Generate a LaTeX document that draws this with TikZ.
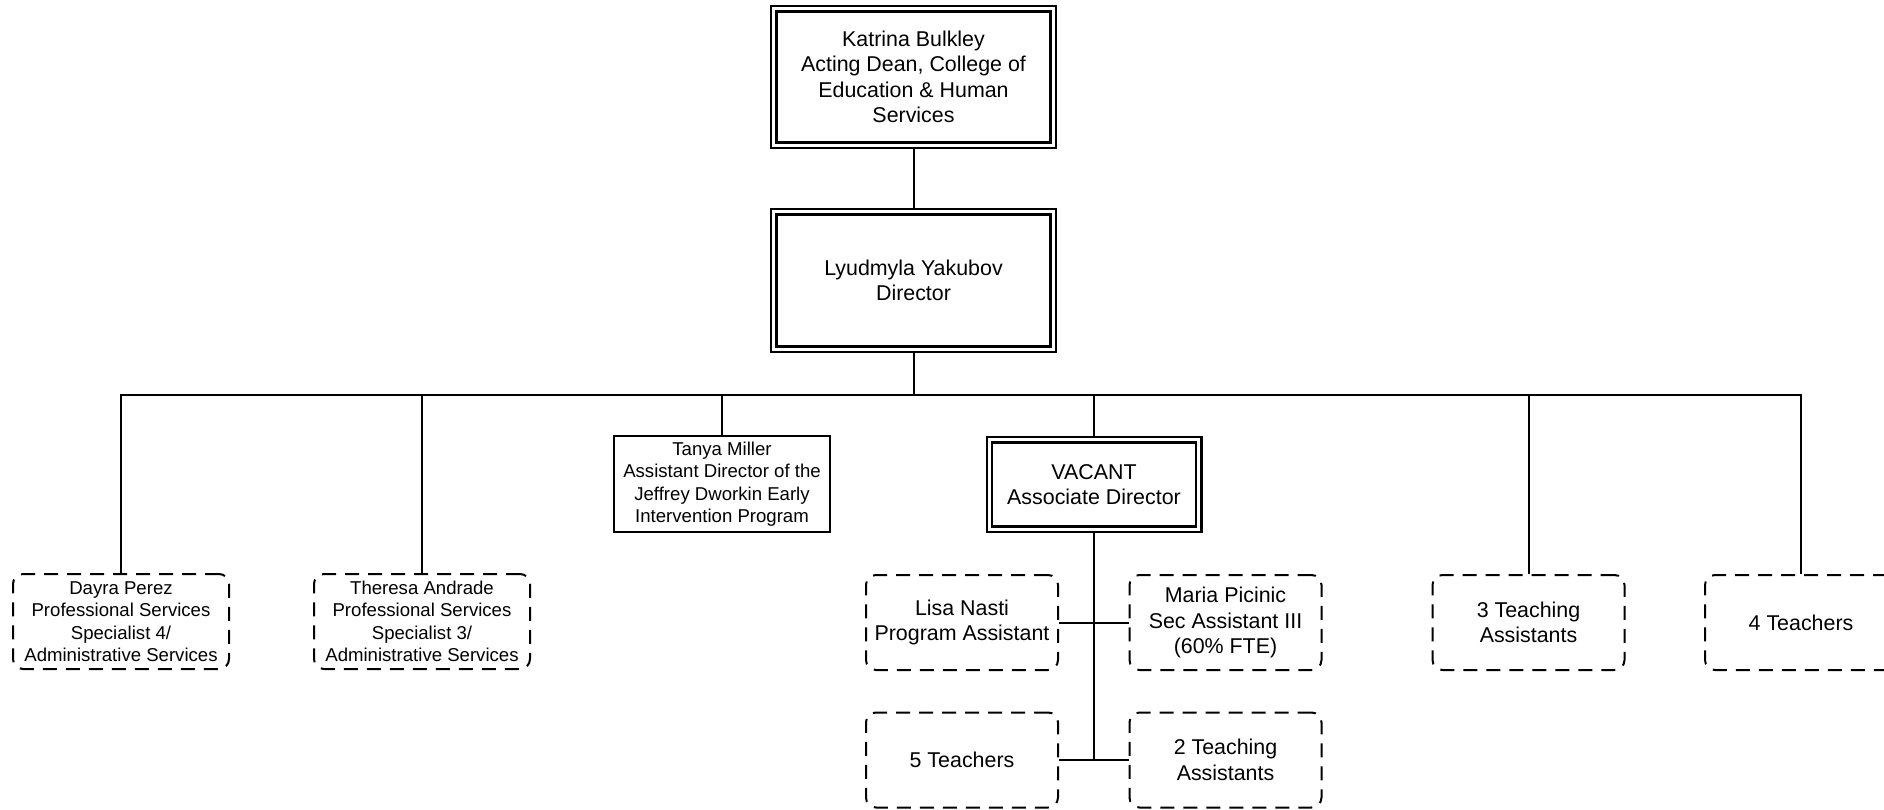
\documentclass[tikz,border=0pt]{standalone}
\usepackage{fontspec}
\setmainfont{Liberation Sans}
\begin{document}
\begin{tikzpicture}[x=0.5pt, y=-0.5pt, line width=1pt,
    every node/.style={rectangle, align=center, inner sep=2pt},
    big/.style={font=\fontsize{10.7}{12.7}\selectfont},
    small/.style={font=\fontsize{9.3}{11.2}\selectfont},
    dbl/.style={draw, double, line width=1.2pt, double distance=1.5pt, outer sep=1.95pt, big},
    dashbox/.style={draw, dash pattern=on 7pt off 4.5pt, rounded corners=5pt, minimum width=96pt, minimum height=47.5pt},
    solidbox/.style={draw, minimum width=108pt, minimum height=48pt, small}]
      \clip (0,0) rectangle (1884,809);
      \node (1) at (913.5,77) [dbl, minimum width=139.6pt, minimum height=68.1pt] {Katrina Bulkley\\Acting Dean, College of\\Education \& Human\\Services};
      \node (2) at (913.5,280.5) [dbl, minimum width=139.6pt, minimum height=68.6pt] {Lyudmyla Yakubov\\Director};
      \node (3) at (121,621.5) [dashbox, small, minimum width=108pt] {Dayra Perez\\Professional Services\\Specialist 4/\\Administrative Services};
      \node (4) at (422,621.5) [dashbox, small, minimum width=108pt] {Theresa Andrade\\Professional Services\\Specialist 3/\\Administrative Services};
      \node (5) at (722,484) [solidbox] {Tanya Miller\\Assistant Director of the\\Jeffrey Dworkin Early\\Intervention Program};
      \node (6) at (1094,484.5) [dbl, minimum width=104.6pt, minimum height=44.6pt] {VACANT\\Associate Director};
      \node (7) at (1528.5,622.5) [dashbox, big] {3 Teaching\\Assistants};
      \node (8) at (1801,622.5) [dashbox, big] {4 Teachers};
      \node (9) at (962,622.5) [dashbox, big] {Lisa Nasti\\Program Assistant};
      \node (10) at (1225.5,622.5) [dashbox, big] {Maria Picinic\\Sec Assistant III\\(60\% FTE)};
      \node (11) at (962,760) [dashbox, big] {5 Teachers};
      \node (12) at (1225.5,760) [dashbox, big] {2 Teaching\\Assistants};
      \coordinate (bus) at (913.5,395);
      \coordinate (stem) at (1094,760);
      \draw (1) -- (2);
      \draw (2.south) -- (bus);
      \foreach \dest in {3,4,5,6,7,8}
        \draw (bus) -| (\dest.north);
      \draw (6.south) -- (stem);
      \foreach \source/\dest in {9/10, 11/12}
        \draw (\source.east) -- (\dest.west);
    \end{tikzpicture}
\end{document}
